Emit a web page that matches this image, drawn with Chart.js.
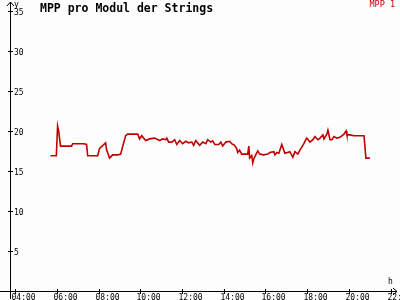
<!DOCTYPE html>
<html>
<head>
<meta charset="utf-8">
<script src="https://cdn.jsdelivr.net/npm/chart.js@4"></script>
<style>
  html, body { margin: 0; padding: 0; background: #fdfdfd; }
  #wrap { width: 400px; height: 300px; }
</style>
</head>
<body>
<div id="wrap"><canvas id="mppChart" width="400" height="300"></canvas></div>
<script>
// time of day in hours
const hours = [5.70, 5.98, 6.04, 6.09, 6.18, 6.71, 6.76, 7.29, 7.43, 7.48, 7.96, 8.05, 8.34, 8.39, 8.53, 8.68, 8.92, 9.06,
  9.30, 9.40, 9.88, 9.97, 10.07, 10.26, 10.45, 10.69, 10.93, 11.07, 11.22, 11.27, 11.36, 11.51, 11.65, 11.75, 11.89,
  12.03, 12.18, 12.32, 12.47, 12.56, 12.66, 12.75, 12.85, 12.99, 13.14, 13.23, 13.38, 13.47, 13.57, 13.76, 13.86, 13.95,
  14.10, 14.29, 14.38, 14.52, 14.62, 14.67, 14.76, 14.86, 15.00, 15.15, 15.20, 15.24, 15.34, 15.39, 15.44, 15.53, 15.63,
  15.72, 15.91, 16.11, 16.21, 16.40, 16.45, 16.54, 16.64, 16.78, 16.93, 17.17, 17.31, 17.41, 17.55, 17.65, 17.84, 17.93,
  17.98, 18.13, 18.27, 18.37, 18.51, 18.61, 18.75, 18.80, 18.94, 18.99, 19.09, 19.18, 19.28, 19.42, 19.57, 19.76, 19.86,
  19.90, 20.05, 20.24, 20.72, 20.81, 21.00];
// MPP per module (V)
const mpp1 = [16.9, 16.9, 20.6, 20.0, 18.1, 18.1, 18.4, 18.4, 18.3, 16.9, 16.9, 17.8, 18.5, 17.6, 16.6, 17.0, 17.0, 17.1,
  19.4, 19.6, 19.6, 19.0, 19.4, 18.8, 19.0, 19.1, 18.8, 19.0, 18.9, 19.1, 18.6, 18.6, 18.9, 18.3, 18.8,
  18.4, 18.7, 18.5, 18.6, 18.2, 18.8, 18.5, 18.2, 18.6, 18.4, 18.9, 18.6, 18.75, 18.3, 18.3, 18.6, 18.1,
  18.6, 18.7, 18.4, 18.2, 17.8, 17.3, 17.6, 17.1, 17.1, 17.1, 18.1, 16.6, 16.9, 16.0, 16.5, 17.0, 17.5,
  17.1, 17.0, 17.1, 17.3, 17.4, 17.0, 17.3, 17.2, 18.3, 17.2, 17.4, 16.7, 17.4, 17.1, 17.6, 18.4, 18.9,
  19.1, 18.6, 18.9, 19.3, 18.9, 19.1, 19.5, 19.0, 19.6, 20.1, 18.9, 18.9, 19.3, 19.1, 19.2, 19.6, 20.0,
  19.5, 19.5, 19.4, 19.4, 16.6, 16.6];
const xTicks = [4, 6, 8, 10, 12, 14, 16, 18, 20, 22];
const xTickLabels = ['04:00', '06:00', '08:00', '10:00', '12:00', '14:00', '16:00', '18:00', '20:00', '22:'];
const yTicks = [5, 10, 15, 20, 25, 30, 35];

const lineColor = '#c00000';
const axisColor = '#000000';
const mono = '"DejaVu Sans Mono", "Liberation Mono", monospace';

// axes, arrows, ticks and labels drawn by hand on top of hidden scales
const axesPlugin = {
    id: 'axes',
    afterDraw(chart) {
        const c = chart.ctx;
        const x = chart.scales.x;
        const y = chart.scales.y;
        const left = x.getPixelForValue(x.min);
        const right = x.getPixelForValue(x.max);
        const bottom = y.getPixelForValue(0);
        const top = y.getPixelForValue(y.max);
        c.save();
        c.strokeStyle = axisColor;
        c.lineWidth = 1;
        c.beginPath();
        c.moveTo(left + 0.5, bottom + 8);
        c.lineTo(left + 0.5, top);
        c.moveTo(left - 3, top + 4);
        c.lineTo(left + 0.5, top);
        c.lineTo(left + 4, top + 4);
        c.moveTo(0, bottom + 0.5);
        c.lineTo(right, bottom + 0.5);
        c.moveTo(right - 4, bottom - 3);
        c.lineTo(right, bottom + 0.5);
        c.lineTo(right - 4, bottom + 4);
        c.stroke();

        c.fillStyle = axisColor;
        c.font = '8px ' + mono;
        c.textBaseline = 'middle';
        c.textAlign = 'left';
        c.beginPath();
        yTicks.forEach(v => {
            const py = Math.round(y.getPixelForValue(v)) + 0.5;
            c.moveTo(left - 2, py);
            c.lineTo(left + 3, py);
            c.fillText(String(v), left + 4, py + 1);
        });
        c.textBaseline = 'top';
        xTicks.forEach((v, i) => {
            const px = Math.round(x.getPixelForValue(v)) + 0.5;
            c.moveTo(px, bottom - 2);
            c.lineTo(px, bottom + 3);
            c.fillText(xTickLabels[i], px - 4, bottom + 3);
        });
        c.stroke();

        c.font = '8px ' + mono;
        c.fillText('y', left + 4, top - 1);
        c.fillText('h', right - 9, bottom - 13);

        c.font = 'bold 11.5px ' + mono;
        c.fillText('MPP pro Modul der Strings', 40, 3);

        c.fillStyle = lineColor;
        c.font = '8.5px ' + mono;
        c.textAlign = 'right';
        c.fillText('MPP 1', 395, 1);
        c.restore();
    }
};

const ctx = document.getElementById('mppChart').getContext('2d');
const mppChart = new Chart(ctx, {
    type: 'line',
    data: {
        datasets: [{
            label: 'MPP 1',
            data: hours.map((h, i) => ({ x: h, y: mpp1[i] })),
            borderColor: lineColor,
            borderWidth: 1.6,
            pointRadius: 0,
            tension: 0,
            fill: false
        }]
    },
    options: {
        responsive: false,
        animation: false,
        layout: {
            padding: { left: 10, right: 3, top: 2, bottom: 9 }
        },
        plugins: {
            legend: { display: false },
            tooltip: { enabled: false }
        },
        scales: {
            x: { type: 'linear', display: false, min: 3.76, max: 22.3 },
            y: { display: false, min: 0, max: 36.1 }
        }
    },
    plugins: [axesPlugin]
});
</script>
</body>
</html>
